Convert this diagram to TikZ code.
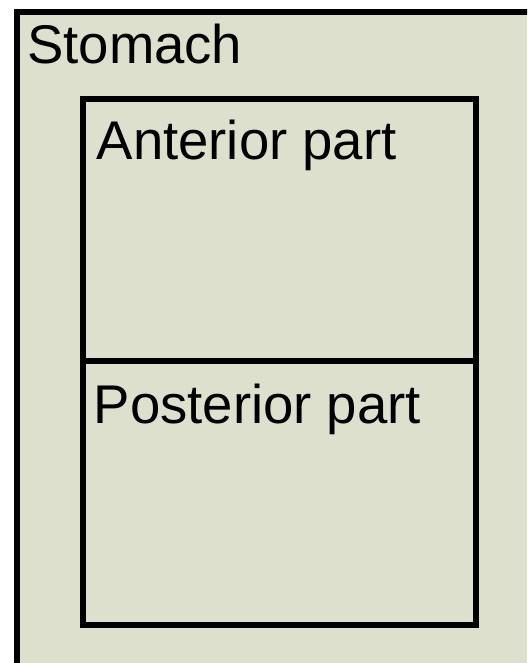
\documentclass[tikz,border=0pt]{standalone}
\usepackage{fontspec}
\setmainfont{Liberation Sans}
\definecolor{panelfill}{RGB}{220,224,204}
\begin{document}
\begin{tikzpicture}[x=1pt,y=-1pt,
  box/.style={draw=black,line width=6pt,fill=panelfill,inner sep=0pt},
  lbl/.style={anchor=base west,inner sep=0pt,font=\fontsize{54.5}{60}\selectfont}]
  \useasboundingbox (0,0) rectangle (527,663);
  \clip (0,0) rectangle (527,663);
  \fill[white] (0,0) rectangle (527,663);
  % outer compartment
  \node[box,minimum width=516pt,minimum height=656pt,anchor=north west] (stomach) at (14,9) {};
  \node[lbl] (stomachlbl) at (27,63.5) {Stomach};
  % inner divisions
  \node[box,minimum width=393pt,minimum height=262pt,anchor=north west] (anterior) at (80,96) {};
  \node[box,minimum width=393pt,minimum height=264pt,anchor=north west] (posterior) at (80,358) {};
  \node[lbl] (anteriorlbl) at (96.5,160) {Anterior part};
  \node[lbl] (posteriorlbl) at (93.5,423) {Posterior part};
\end{tikzpicture}
\end{document}
